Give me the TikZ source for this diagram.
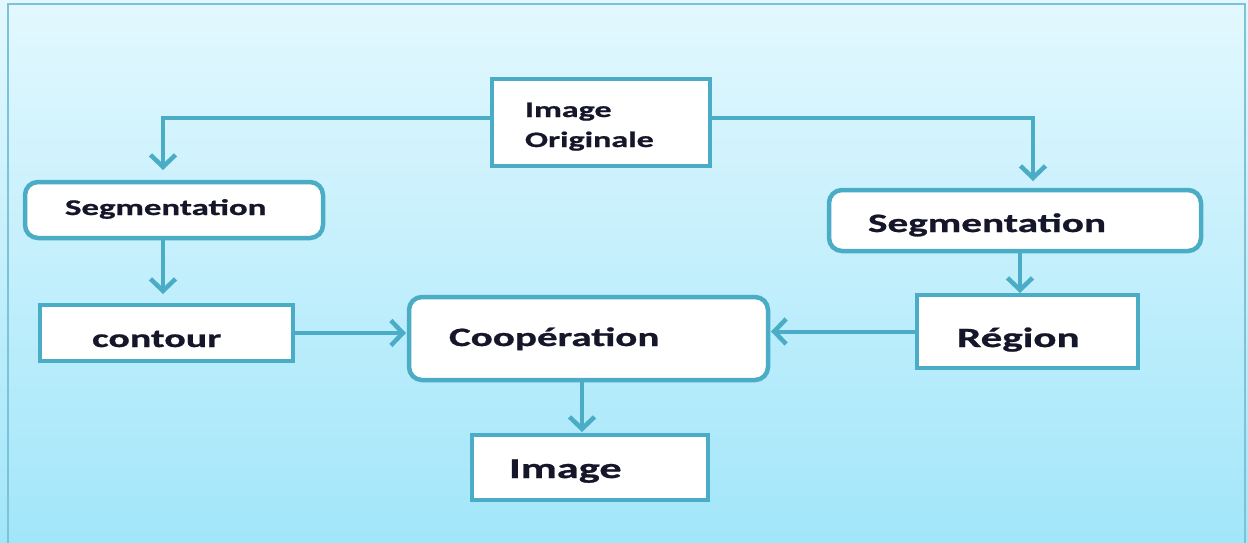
\documentclass[tikz,border=0pt]{standalone}
\usepackage{fontspec}
\newfontfamily\labelfont[FakeStretch=1.55, BoldFeatures={FakeBold=0.9}]{Carlito}
\usetikzlibrary{arrows.meta}
\definecolor{edgeblue}{HTML}{4BACC6}
\definecolor{frameblue}{HTML}{7CC2D8}
\definecolor{bgtop}{HTML}{E3F8FE}
\definecolor{bgbottom}{HTML}{A2E6FA}
\definecolor{ink}{HTML}{16162A}
\tikzset{
  squarebox/.style={draw=edgeblue, line width=4.5pt, fill=white, inner sep=0pt, outer sep=0pt},
  roundbox/.style={squarebox, rounded corners=13pt},
  txt/.style={inner sep=0pt, outer sep=0pt, anchor=base west, text=ink},
  arr/.style={draw=edgeblue, line width=4pt,
    -{Straight Barb[length=12pt, width=25pt, line width=4.5pt]}},
}
\begin{document}
\begin{tikzpicture}[x=1pt, y=-1pt]
\useasboundingbox (0,0) rectangle (1248,542);
% background panel with its frame
\shade[top color=bgtop, bottom color=bgbottom] (0,0) rectangle (1248,542);
\draw[frameblue, line width=2.5pt] (8,4) rectangle (1245,548);

% boxes
\node[squarebox, minimum width=218pt, minimum height=87pt] (orig) at (601,122.5) {};
\node[roundbox, minimum width=298pt, minimum height=56pt] (segL) at (174,210) {};
\node[squarebox, minimum width=253pt, minimum height=56pt] (cont) at (166.5,333) {};
\node[roundbox, minimum width=372pt, minimum height=61pt] (segR) at (1015,220.5) {};
\node[squarebox, minimum width=221pt, minimum height=73pt] (reg) at (1027.5,331.5) {};
\node[roundbox, minimum width=359pt, minimum height=83pt] (coop) at (588.5,338.5) {};
\node[squarebox, minimum width=236pt, minimum height=65pt] (img) at (590,467.5) {};

% labels
\node[txt, align=left, font=\labelfont\bfseries\fontsize{22}{30}\selectfont] (torig) at (525,147) {Image\\Originale};
\node[txt, font=\labelfont\bfseries\fontsize{22.5}{27}\selectfont] (tsegL) at (65,215) {Segmentation};
\node[txt, font=\labelfont\bfseries\fontsize{25.7}{30}\selectfont] (tcont) at (92,347) {contour};
\node[txt, font=\labelfont\bfseries\fontsize{26.6}{30}\selectfont] (tsegR) at (868,232) {Segmentation};
\node[txt, font=\labelfont\bfseries\fontsize{27.8}{32}\selectfont] (treg) at (957,347) {Région};
\node[txt, font=\labelfont\bfseries\fontsize{26.5}{30}\selectfont] (tcoop) at (449,346) {Coopération};
\node[txt, font=\labelfont\bfseries\fontsize{28.6}{32}\selectfont] (timg) at (509,478) {Image};

% connectors
\draw[arr, shorten >=12pt] ([yshift=4.5pt]orig.west) -| ([xshift=-11pt]segL.north);
\draw[arr, shorten >=9pt] ([yshift=4.5pt]orig.east) -| ([xshift=18pt]segR.north);
\draw[arr, shorten >=11pt] ([xshift=-11pt]segL.south) -- ([xshift=-11pt]segL.south |- cont.north);
\draw[arr, shorten >=2pt] ([xshift=5pt]segR.south) -- ([xshift=5pt]segR.south |- reg.north);
\draw[arr, shorten >=3pt] (cont.east) -- (cont.east -| coop.west);
\draw[arr, shorten >=3pt] (reg.west) -- (reg.west -| coop.east);
\draw[arr, shorten >=3pt] ([xshift=-6.5pt]coop.south) -- ([xshift=-6.5pt]coop.south |- img.north);
\end{tikzpicture}
\end{document}
